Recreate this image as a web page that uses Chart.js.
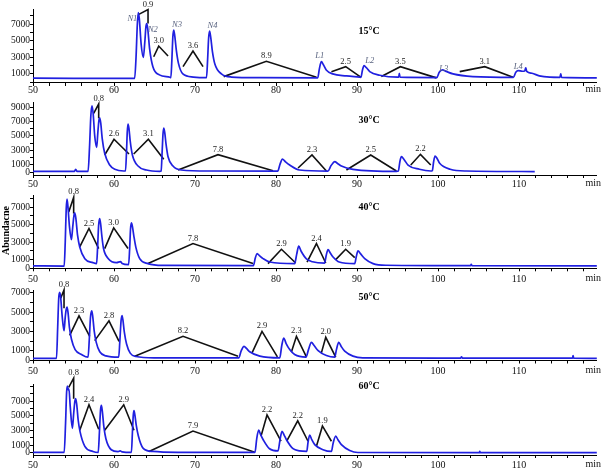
<!DOCTYPE html>
<html>
<head>
<meta charset="utf-8">
<script src="https://cdn.jsdelivr.net/npm/chart.js@4"></script>
<style>
  body { margin: 0; background: #fff; }
  #wrap { position: relative; width: 601px; height: 470px; }
  #wrap canvas { position: absolute; left: 0; top: 0; }
</style>
</head>
<body>
<div id="wrap">
  <canvas id="c0" width="601" height="470"></canvas>
  <canvas id="c1" width="601" height="470"></canvas>
  <canvas id="c2" width="601" height="470"></canvas>
  <canvas id="c3" width="601" height="470"></canvas>
  <canvas id="c4" width="601" height="470"></canvas>
</div>
<script>
// ---- data (time in min, abundance) ----
const xTicksLabelled = [50, 60, 70, 80, 90, 100, 110];

// 15 °C
const t15 = [50, 55, 60, 62.55, 62.72, 62.88, 63.0, 63.12, 63.35, 63.62, 63.8, 63.94, 64.04, 64.16, 64.4, 64.8,
  65.6, 66.9, 67.02, 67.14, 67.26, 67.37, 67.5, 67.7, 67.95, 68.5, 69.8, 71.42, 71.55, 71.68, 71.8, 71.93,
  72.15, 72.45, 73.26, 74.5, 78, 85.15, 85.35, 85.6, 85.85, 86.2, 87.0, 88.7, 90.3, 90.48, 90.68, 90.87,
  91.15, 91.57, 92.8, 95.0, 95.15, 95.22, 95.3, 99.85, 100.15, 100.54, 101.0, 101.85, 104.3, 109.3, 109.6,
  109.9, 110.4, 110.7, 110.83, 110.95, 111.6, 112.5, 113.8, 115.05, 115.15, 115.25, 119.6];
const a15 = [480, 470, 460, 460, 3000, 7000, 8400, 7700, 4600, 3000, 4800, 6700, 7080, 6500, 4000, 1870,
  880, 600, 560, 2600, 5400, 6280, 5600, 3800, 2300, 1000, 620, 540, 2600, 5300, 6160, 5500,
  3700, 2200, 1000, 620, 540, 520, 1600, 2470, 2100, 1480, 1000, 760, 600, 580, 1500, 2000,
  1750, 1280, 840, 600, 600, 1080, 600, 560, 1200, 1480, 1300, 1000, 680, 580, 1200,
  1400, 1320, 1350, 1720, 1300, 1080, 760, 600, 580, 1000, 580, 520];
const resT15 = [[63.0, 64.2, 64.2], [64.9, 65.52, 66.67], [68.52, 69.75, 70.99], [73.54, 78.81, 85.0],
  [86.84, 88.6, 90.46], [93.0, 95.35, 99.8], [102.68, 105.77, 109.26]];
const resA15 = [[8160, 8760, 7080], [3070, 4360, 3160], [1870, 3760, 1870], [670, 2520, 600],
  [1270, 1870, 600], [680, 1870, 520], [1270, 1870, 600]];
const resL15 = ['0.9', '3.0', '3.6', '8.9', '2.5', '3.5', '3.1'];
const peakNames = ['N1', 'N2', 'N3', 'N4', 'L1', 'L2', 'L3', 'L4'];
const peakT = [62.27, 64.8, 67.77, 72.15, 85.4, 91.57, 100.7, 109.9];
const peakA = [7600, 6360, 6880, 6760, 3190, 2590, 1670, 1870];

// 30 °C
const t30 = [50, 55.1, 55.27, 55.45, 56.8, 56.98, 57.14, 57.28, 57.42, 57.62, 57.86, 58.0, 58.13, 58.23, 58.36,
  58.55, 58.85, 59.47, 60.1, 61.2, 61.42, 61.55, 61.64, 61.73, 61.84, 62.0, 62.27, 62.97, 64.0, 65.65, 65.82,
  65.95, 66.05, 66.14, 66.26, 66.42, 66.67, 67.28, 68.3, 72, 80.2, 80.5, 80.79, 81.1, 81.69, 82.9, 86.4, 86.8,
  87.25, 87.6, 88.07, 89.5, 94.87, 95.1, 95.3, 95.48, 95.8, 96.3, 97.7, 99.1, 99.3, 99.45, 99.63, 99.85,
  100.2, 101.5, 103.5, 111.94];
const a30 = [100, 100, 390, 100, 100, 3500, 7800, 9180, 8200, 5000, 3430, 5400, 7100, 7520, 6800,
  4600, 2600, 980, 390, 150, 150, 3000, 5600, 6650, 6100, 4300, 2370, 840, 290, 110, 150,
  3000, 5300, 6100, 5500, 3900, 2130, 840, 290, 150, 130, 1100, 1810, 1500, 980, 290, 130, 900,
  1440, 1200, 840, 390, 110, 150, 1500, 2130, 1750, 980, 390, 150, 200, 1400, 2230, 1950,
  1220, 390, 150, 80];
const resT30 = [[57.49, 58.11, 58.11], [58.85, 60.0, 61.85], [62.43, 64.24, 66.14], [67.9, 72.84, 79.63],
  [82.72, 84.44, 86.22], [88.69, 91.69, 94.86], [96.63, 97.83, 99.1]];
const resA30 = [[8130, 9420, 7440], [2370, 4540, 2500], [2500, 4540, 1770], [290, 2410, 190],
  [570, 2370, 150], [290, 2370, 150], [980, 2460, 980]];
const resL30 = ['0.8', '2.6', '3.1', '7.8', '2.3', '2.5', '2.2'];

// 40 °C
const t40 = [50, 53.85, 53.98, 54.1, 54.2, 54.32, 54.5, 54.74, 54.9, 55.05, 55.15, 55.28, 55.5, 55.77, 56.4,
  57.4, 57.85, 57.98, 58.1, 58.23, 58.36, 58.5, 58.7, 59.3, 60.3, 60.8, 61.0, 61.8, 61.93, 62.04, 62.15,
  62.27, 62.45, 62.7, 63.17, 64.2, 66, 77.2, 77.45, 77.66, 77.95, 78.4, 79.22, 82.3, 82.55, 82.8, 83.1,
  83.75, 84.5, 86.0, 86.2, 86.42, 86.7, 87.04, 87.8, 89.72, 89.9, 90.12, 90.45, 90.95, 91.98, 93.6,
  104.0, 104.1, 104.2, 119.6];
const a40 = [280, 260, 3000, 6800, 7920, 7000, 4800, 3290, 4700, 6000, 6350, 5800, 3800, 2450, 1100,
  650, 540, 2500, 4900, 5700, 5000, 3700, 2300, 1100, 650, 760, 560, 420, 2200, 4500, 5200,
  4800, 3700, 2400, 1110, 540, 330, 300, 1200, 1690, 1450, 1110, 720, 540, 1600, 2530, 1950,
  1070, 750, 600, 1500, 2140, 1750, 1300, 720, 540, 1300, 1990, 1650, 1110, 540, 350,
  300, 460, 300, 280];
const resT40 = [[54.41, 55.02, 55.02], [55.77, 56.91, 58.11], [58.85, 59.96, 61.73], [64.2, 69.75, 77.16],
  [79.01, 80.67, 82.43], [83.83, 84.99, 86.14], [87.37, 88.6, 89.72]];
const resA40 = [[6460, 8120, 6280], [2450, 4560, 2260], [2260, 4630, 2260], [540, 2840, 540],
  [540, 2180, 610], [720, 2840, 610], [1000, 2180, 1230]];
const resL40 = ['0.8', '2.5', '3.0', '7.8', '2.9', '2.4', '1.9'];

// 50 °C
const t50 = [50, 52.9, 53.05, 53.18, 53.3, 53.42, 53.6, 53.83, 53.98, 54.1, 54.2, 54.32, 54.5, 54.75, 55.2,
  56.0, 56.8, 56.95, 57.1, 57.25, 57.37, 57.55, 57.8, 58.24, 59.0, 60.58, 60.72, 60.87, 60.99, 61.1, 61.28,
  61.55, 62.0, 62.7, 65, 75.4, 75.7, 76.05, 76.35, 76.75, 78.0, 80.46, 80.7, 80.95, 81.25, 81.69, 82.3,
  83.7, 84.0, 84.37, 84.7, 85.2, 86.22, 87.25, 87.45, 87.74, 88.05, 88.48, 89.5, 90.7, 102.8, 102.9,
  103.0, 116.6, 116.67, 116.75, 119.6];
const a50 = [220, 220, 3500, 6500, 7060, 6500, 4600, 3080, 4500, 5300, 5520, 5000, 3400, 2200, 1130,
  620, 340, 2200, 4500, 5140, 4600, 3100, 1900, 900, 480, 340, 2000, 4100, 4660, 4200, 2900,
  1700, 760, 410, 280, 270, 1000, 1470, 1250, 900, 450, 270, 1500, 2330, 1750, 1130, 620,
  350, 1100, 1880, 1550, 1030, 510, 340, 1100, 1880, 1450, 960, 450, 270, 250, 380,
  250, 240, 510, 240, 230];
const resT50 = [[53.42, 53.83, 53.83], [54.53, 55.68, 57.0], [57.62, 59.38, 60.62], [62.56, 68.52, 75.31],
  [77.04, 78.27, 80.17], [81.9, 82.52, 83.75], [85.6, 86.14, 87.37]];
const resA50 = [[6440, 7300, 5420], [2600, 4620, 2500], [2060, 4110, 1980], [440, 2500, 440],
  [790, 3010, 380], [890, 2500, 380], [790, 2400, 340]];
const resL50 = ['0.8', '2.3', '2.8', '8.2', '2.9', '2.3', '2.0'];

// 60 °C
const t60 = [50, 53.85, 54.02, 54.15, 54.25, 54.35, 54.44, 54.6, 54.86, 55.02, 55.17, 55.27, 55.4, 55.58, 55.8,
  56.4, 57.4, 58.05, 58.2, 58.33, 58.44, 58.56, 58.75, 59.0, 59.66, 60.5, 60.76, 61.0, 62.15, 62.27, 62.38,
  62.47, 62.58, 62.75, 63.0, 63.58, 64.8, 68, 77.4, 77.62, 77.86, 78.1, 78.4, 79.2, 80.25, 80.5, 80.74, 81.0,
  81.27, 82.1, 82.9, 83.8, 83.95, 84.16, 84.4, 84.78, 85.8, 86.84, 87.05, 87.37, 87.65, 88.07, 89.1, 90.1,
  105.1, 105.15, 105.25, 119.6];
const a60 = [60, 50, 4000, 8200, 9020, 8500, 8600, 6200, 3310, 5300, 7000, 7320, 6500, 4400, 2900,
  870, 180, 40, 2800, 5700, 6400, 5600, 3500, 1900, 410, 150, 250, 120, 50, 2700, 5100,
  5700, 5100, 3700, 2300, 640, 180, 60, 50, 1900, 3080, 2450, 1800, 550, 260, 1800, 2900, 2400,
  1800, 550, 260, 200, 1400, 2390, 1800, 1100, 420, 180, 1300, 2250, 1750, 1100, 310, 40,
  30, 180, 30, 30];
const resT60 = [[54.41, 55.02, 55.02], [55.77, 56.91, 58.11], [58.85, 61.2, 62.47], [64.32, 69.75, 77.37],
  [78.15, 78.89, 80.62], [81.32, 82.68, 83.95], [84.99, 85.73, 86.84]];
const resA60 = [[8840, 10080, 7320], [3040, 6490, 3180], [3040, 6490, 3040], [180, 2940, 80],
  [2250, 5110, 1560], [1560, 4320, 1560], [870, 3630, 1560]];
const resL60 = ['0.8', '2.4', '2.9', '7.9', '2.2', '2.2', '1.9'];

// ---- layout ----
const W = 601, H = 470, AXIS_LEFT = 33, X_AXIS_H = 14, Y_STEP = 1000;
const panels = [
  { id: 'c0', title: '15°C', titleY: 31.7, top: 9.3, bottom: 83, labelY: 90, min: -100, max: 8800,
    yLab: [1000, 3000, 5000, 7000], t: t15, a: a15, rt: resT15, ra: resA15, rl: resL15, peaks: true },
  { id: 'c1', title: '30°C', titleY: 120, top: 102.7, bottom: 175, labelY: 184, min: -400, max: 9600,
    yLab: [0, 1000, 3000, 5000, 7000, 9000], t: t30, a: a30, rt: resT30, ra: resA30, rl: resL30 },
  { id: 'c2', title: '40°C', titleY: 207.3, top: 195, bottom: 268.3, labelY: 279, min: 0, max: 8400,
    yLab: [0, 1000, 3000, 5000, 7000], t: t40, a: a40, rt: resT40, ra: resA40, rl: resL40, yTitle: true },
  { id: 'c3', title: '50°C', titleY: 297.7, top: 290, bottom: 360.5, labelY: 371.7, min: 0, max: 7300,
    yLab: [0, 1000, 3000, 5000, 7000], t: t50, a: a50, rt: resT50, ra: resA50, rl: resL50 },
  { id: 'c4', title: '60°C', titleY: 386.7, top: 384, bottom: 455, labelY: 465.7, min: -300, max: 9300,
    yLab: [0, 1000, 3000, 5000, 7000], t: t60, a: a60, rt: resT60, ra: resA60, rl: resL60 }
];

const SERIF = '"Liberation Serif", "Times New Roman", serif';

function overlayFor(p, xPad) {
  return {
    id: 'overlay',
    afterDatasetsDraw(chart) {
      const { ctx, scales: { x, y } } = chart;
      ctx.save();
      // resolution labels above each triangle apex
      ctx.fillStyle = '#222';
      ctx.font = '8.5px ' + SERIF;
      ctx.textAlign = 'center';
      ctx.textBaseline = 'alphabetic';
      p.rt.forEach((tt, i) => {
        ctx.fillText(p.rl[i], x.getPixelForValue(tt[1]), y.getPixelForValue(p.ra[i][1]) - 3);
      });
      // peak names
      if (p.peaks) {
        ctx.fillStyle = '#5a6480';
        ctx.font = 'italic 8.5px ' + SERIF;
        ctx.textBaseline = 'middle';
        peakNames.forEach((n, i) => {
          ctx.fillText(n, x.getPixelForValue(peakT[i]), y.getPixelForValue(peakA[i]));
        });
      }
      // temperature title
      ctx.fillStyle = '#000';
      ctx.font = 'bold 10px ' + SERIF;
      ctx.textBaseline = 'middle';
      ctx.fillText(p.title, 369, p.titleY);
      // "min" at the end of the time axis
      ctx.font = '10px ' + SERIF;
      ctx.textAlign = 'right';
      ctx.textBaseline = 'top';
      ctx.fillStyle = '#111';
      ctx.fillText('min', 601, x.top + 3 + xPad);
      // y axis title
      if (p.yTitle) {
        ctx.translate(6, 230.5);
        ctx.rotate(-Math.PI / 2);
        ctx.textAlign = 'center';
        ctx.textBaseline = 'middle';
        ctx.font = 'bold 10px ' + SERIF;
        ctx.fillStyle = '#000';
        ctx.fillText('Abundacne', 0, 0);
      }
      ctx.restore();
    }
  };
}

panels.forEach(p => {
  const xPad = p.labelY - 9 - p.bottom;
  const datasets = [{
    data: p.t.map((tt, i) => ({ x: tt, y: p.a[i] })),
    borderColor: '#2020e0',
    borderWidth: 1.7,
    pointRadius: 0,
    cubicInterpolationMode: 'monotone',
    clip: false
  }];
  p.rt.forEach((tt, i) => {
    datasets.push({
      data: tt.map((v, j) => ({ x: v, y: p.ra[i][j] })),
      borderColor: '#111',
      borderWidth: 1.6,
      pointRadius: 0,
      tension: 0,
      clip: false
    });
  });

  new Chart(document.getElementById(p.id), {
    type: 'line',
    data: { datasets },
    options: {
      responsive: false,
      animation: false,
      events: [],
      devicePixelRatio: 1,
      layout: { padding: { top: p.top, bottom: H - p.bottom - X_AXIS_H, left: 0, right: 4.2 } },
      plugins: { legend: { display: false }, tooltip: { enabled: false } },
      scales: {
        x: {
          type: 'linear',
          min: 50,
          max: 119.6,
          afterFit: s => { s.height = X_AXIS_H; },
          border: { display: true, color: '#000', width: 1 },
          grid: { display: true, drawOnChartArea: false, drawTicks: true, tickLength: 3, color: '#000' },
          ticks: {
            stepSize: 2,
            includeBounds: false,
            autoSkip: false,
            maxRotation: 0,
            padding: xPad,
            color: '#111',
            font: { family: SERIF, size: 10 },
            callback: v => (xTicksLabelled.includes(v) ? v : '')
          }
        },
        y: {
          type: 'linear',
          min: p.min,
          max: p.max,
          afterFit: s => { s.width = AXIS_LEFT; },
          afterBuildTicks: s => {
            const ticks = [];
            for (let v = Math.ceil(p.min / Y_STEP) * Y_STEP; v <= p.max; v += Y_STEP) ticks.push({ value: v });
            s.ticks = ticks;
          },
          border: { display: true, color: '#000', width: 1 },
          grid: { display: true, drawOnChartArea: false, drawTicks: true, tickLength: 3, color: '#000' },
          ticks: {
            autoSkip: false,
            padding: 0,
            color: '#111',
            font: { family: SERIF, size: 9.5 },
            callback: v => (p.yLab.includes(v) ? v : '')
          }
        }
      }
    },
    plugins: [overlayFor(p, xPad)]
  });
});
</script>
</body>
</html>
